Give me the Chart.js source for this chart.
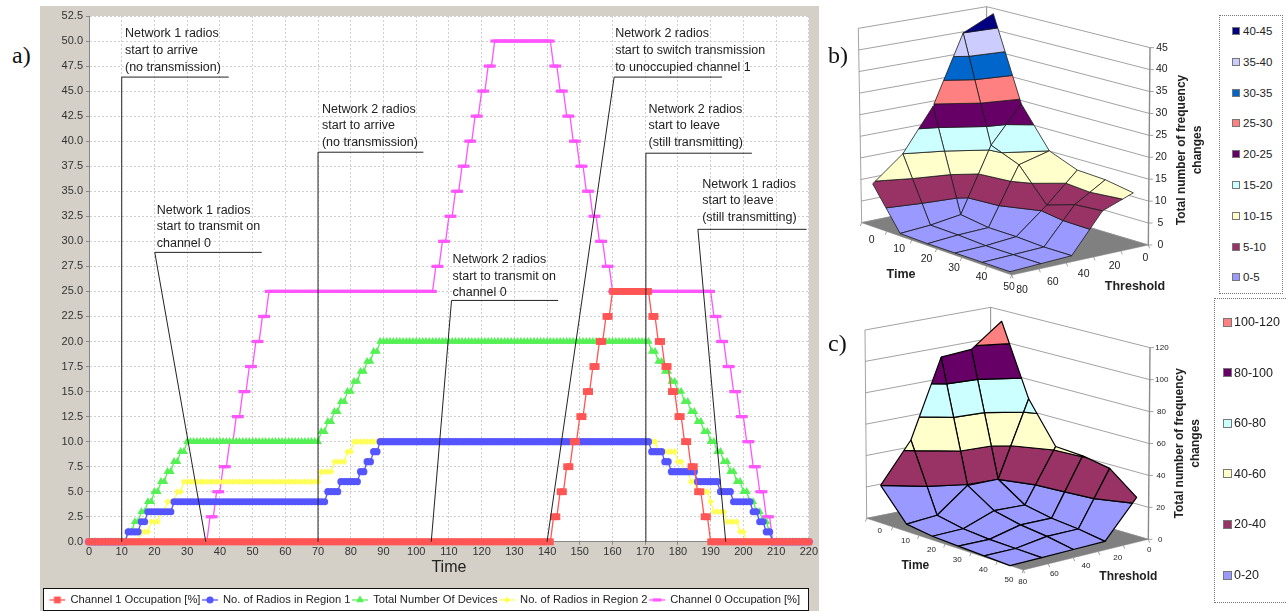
<!DOCTYPE html>
<html>
<head>
<meta charset="utf-8">
<title>Frequency changes</title>
<script src="https://cdn.jsdelivr.net/npm/chart.js@4/dist/chart.umd.js"></script>
<style>
  html, body { margin: 0; padding: 0; background: #fff; }
  body { position: relative; width: 1286px; height: 611px; overflow: hidden; font-family: "Liberation Sans", Arial, sans-serif; }
  canvas { position: absolute; display: block; }
  #chartA { left: 40px; top: 6px; background: #D4D0C8; }
  #chartB { left: 820px; top: 0; }
  #chartC { left: 820px; top: 300px; }
  .panel { position: absolute; font-family: "Liberation Serif", serif; font-size: 24px; line-height: 28px; color: #111; }
  .bandLegend { position: absolute; border: 1px dotted #777; box-sizing: border-box; color: #222; }
  .bandLegend div { position: absolute; white-space: nowrap; line-height: 14px; }
  .bandLegend i { position: absolute; border: 1px solid #777; box-sizing: border-box; }
</style>
</head>
<body>
<canvas id="chartA" width="779" height="615"></canvas>
<canvas id="chartB" width="395" height="297"></canvas>
<canvas id="chartC" width="395" height="311"></canvas>
<div class="panel" style="left:12px;top:41px">a)</div>
<div class="panel" style="left:828px;top:41px">b)</div>
<div class="panel" style="left:828px;top:329px">c)</div>
<div class="bandLegend" id="legendB" style="left:1219px;top:15px;width:64px;height:279px;font-size:11.5px"></div>
<div class="bandLegend" id="legendC" style="left:1214px;top:298px;width:80px;height:305px;font-size:12.5px"></div>

<script>
// a) time series, stored as the time each level starts and the level itself
const seriesNames = ['Channel 1 Occupation [%]', 'No. of Radios in Region 1', 'Total Number Of Devices', 'No. of Radios in Region 2', 'Channel 0 Occupation [%]'];

const channel1Starts = [0, 142, 144, 146, 148, 150, 152, 154, 156, 158, 160, 172, 174, 176, 178, 180, 182, 184, 186, 188, 190];
const channel1Levels = [0, 2.5, 5, 7.5, 10, 12.5, 15, 17.5, 20, 22.5, 25, 22.5, 20, 17.5, 15, 12.5, 10, 7.5, 5, 2.5, 0];

const region1Starts = [0, 12, 16, 18, 26, 73, 77, 83, 85, 87, 89, 172, 176, 178, 186, 193, 197, 203, 205, 207, 209];
const region1Levels = [0, 1, 2, 3, 4, 5, 6, 7, 8, 9, 10, 9, 8, 7, 6, 5, 4, 3, 2, 1, 0];

const totalStarts = [0, 12, 14, 16, 18, 20, 22, 24, 26, 28, 30, 71, 73, 75, 77, 79, 81, 83, 85, 87, 89, 172, 174, 176, 178, 180, 182, 184, 186, 188, 190, 192, 194, 196, 198, 200, 202, 204, 206, 208, 209];
const totalLevels = [0, 1, 2, 3, 4, 5, 6, 7, 8, 9, 10, 11, 12, 13, 14, 15, 16, 17, 18, 19, 20, 19, 18, 17, 16, 15, 14, 13, 12, 11, 10, 9, 8, 7, 6, 5, 4, 3, 2, 1, 0];

const region2Starts = [0, 16, 19, 22, 24, 27, 29, 71, 75, 79, 81, 174, 180, 182, 184, 186, 190, 191, 195, 199, 201];
const region2Levels = [0, 1, 2, 3, 4, 5, 6, 7, 8, 9, 10, 9, 8, 7, 6, 5, 4, 3, 2, 1, 0];

const channel0Starts = [0, 37, 39, 41, 43, 45, 47, 49, 51, 53, 55, 106, 108, 110, 112, 114, 116, 118, 120, 122, 124, 142, 144, 146, 148, 150, 152, 154, 156, 158, 160, 191, 193, 195, 197, 199, 201, 203, 205, 207, 209];
const channel0Levels = [0, 2.5, 5, 7.5, 10, 12.5, 15, 17.5, 20, 22.5, 25, 27.5, 30, 32.5, 35, 37.5, 40, 42.5, 45, 47.5, 50, 47.5, 45, 42.5, 40, 37.5, 35, 32.5, 30, 27.5, 25, 22.5, 20, 17.5, 15, 12.5, 10, 7.5, 5, 2.5, 0];

// callouts on a): text lines, text anchor, then the leader as time/value corners
const calloutTexts = [
  ['Network 1 radios', 'start to arrive', '(no transmission)'],
  ['Network 1 radios', 'start to transmit on', 'channel 0'],
  ['Network 2 radios', 'start to arrive', '(no transmission)'],
  ['Network 2 radios', 'start to transmit on', 'channel 0'],
  ['Network 2 radios', 'start to switch transmission', 'to unoccupied channel 1'],
  ['Network 2 radios', 'start to leave', '(still transmitting)'],
  ['Network 1 radios', 'start to leave', '(still transmitting)']
];
const calloutTime = [11, 20.7, 71.2, 111.1, 160.8, 171, 187.4];
const calloutValue = [50.7, 33.1, 43.2, 28.2, 50.7, 43.2, 35.7];
const leaderFoot = [10, 35.7, 70, 104.6, 140, 170.2, 194.6];
const leaderElbowTime = [10, 20.1, 70, 110.8, 160.5, 170.2, 186.1];
const leaderElbowValue = [46.4, 28.9, 38.9, 24.1, 46.4, 38.8, 31.2];
const leaderEnd = [42.7, 52.8, 102.2, 143.4, 193.5, 202.6, 219.3];

// b) and c) surfaces: one row per time, thresholds in the order of thresholdTicks
const timeTicks = [0, 10, 20, 30, 40, 50];
const thresholdTicks = [80, 60, 40, 20, 0];

const changesB = [
  [9.5, 15, 24.5, 40, 43],
  [0.2, 0.6, 1.5, 16, 24],
  [0, 0.4, 0.5, 13.4, 15],
  [0, 0, 0.4, 6, 12.4],
  [0, 0, 0, 8, 12],
  [0, 0, 0, 8.5, 10.8]
];
const changesC = [
  [20, 46, 96, 98, 113],
  [1.5, 3.8, 19.5, 20, 68],
  [0, 1, 8.7, 8.5, 42],
  [0, 0, 5, 5, 40.5],
  [0, 0, 3, 3, 37],
  [0, 0, 0, 0, 23]
];
const zTicksB = [0, 5, 10, 15, 20, 25, 30, 35, 40, 45];
const zTicksC = [0, 20, 40, 60, 80, 100, 120];
const bandsB = ['0-5', '5-10', '10-15', '15-20', '20-25', '25-30', '30-35', '35-40', '40-45'];
const bandsC = ['0-20', '20-40', '40-60', '60-80', '80-100', '100-120'];
const bandColors = ['#9999FF', '#993366', '#FFFFCC', '#CCFFFF', '#660066', '#FF8080', '#0066CC', '#CCCCFF', '#000080'];

const FONT = '"Liberation Sans", Arial, sans-serif';

function holdLevels(starts, levels) {
  const out = [];
  let k = 0;
  for (let t = 0; t <= 220; t++) {
    while (k + 1 < starts.length && starts[k + 1] <= t) k++;
    out.push({ x: t, y: levels[k] });
  }
  return out;
}

const markers = [
  { color: '#FF5555', style: 'rect', radius: 4.8, width: 0, line: 1.3 },
  { color: '#5555FF', style: 'circle', radius: 3.6, width: 0, line: 1.3 },
  { color: '#55F055', style: 'triangle', radius: 4.6, width: 0, line: 1.3 },
  { color: '#FFFF55', style: 'rectRot', radius: 3.3, width: 0, line: 1.3 },
  { color: '#FF55FF', style: 'line', radius: 4.3, width: 3.2, line: 1.3 }
];
const seriesData = [
  holdLevels(channel1Starts, channel1Levels),
  holdLevels(region1Starts, region1Levels),
  holdLevels(totalStarts, totalLevels),
  holdLevels(region2Starts, region2Levels),
  holdLevels(channel0Starts, channel0Levels)
];

function legendIcon(m) {
  const c = document.createElement('canvas');
  c.width = 18; c.height = 12;
  const ctx = c.getContext('2d');
  ctx.strokeStyle = m.color; ctx.fillStyle = m.color; ctx.lineWidth = 1.3;
  ctx.beginPath(); ctx.moveTo(1, 6); ctx.lineTo(17, 6); ctx.stroke();
  ctx.lineWidth = m.width;
  Chart.helpers.drawPoint(ctx, { pointStyle: m.style, radius: m.radius, borderWidth: m.width, rotation: 0 }, 9, 6);
  return c;
}

const annotationsA = {
  id: 'annotationsA',
  beforeDraw(chart) {
    const { ctx, chartArea: a } = chart;
    ctx.save();
    ctx.fillStyle = '#fff';
    ctx.fillRect(a.left, a.top, a.width, a.height);
    ctx.fillRect(3, 582, 765, 22);
    ctx.strokeStyle = '#111';
    ctx.lineWidth = 1;
    ctx.strokeRect(3.5, 582.5, 765, 22);
    ctx.restore();
  },
  afterDatasetsDraw(chart) {
    const { ctx, scales: { x, y } } = chart;
    ctx.save();
    ctx.strokeStyle = '#222';
    ctx.lineWidth = 1;
    ctx.fillStyle = '#222';
    ctx.font = '12.5px ' + FONT;
    ctx.textBaseline = 'middle';
    calloutTexts.forEach((lines, i) => {
      ctx.beginPath();
      ctx.moveTo(x.getPixelForValue(leaderFoot[i]), y.getPixelForValue(0));
      ctx.lineTo(x.getPixelForValue(leaderElbowTime[i]), y.getPixelForValue(leaderElbowValue[i]));
      ctx.lineTo(x.getPixelForValue(leaderEnd[i]), y.getPixelForValue(leaderElbowValue[i]));
      ctx.stroke();
      lines.forEach((t, j) => ctx.fillText(t, x.getPixelForValue(calloutTime[i]), y.getPixelForValue(calloutValue[i]) + j * 16.7));
    });
    ctx.restore();
  }
};

new Chart(document.getElementById('chartA'), {
  type: 'line',
  data: {
    datasets: seriesNames.map((name, i) => ({
      label: name,
      data: seriesData[i],
      borderColor: markers[i].color,
      backgroundColor: markers[i].color,
      borderWidth: markers[i].line,
      pointStyle: markers[i].style,
      pointRadius: markers[i].radius,
      pointBorderWidth: markers[i].width,
      pointBorderColor: markers[i].color,
      pointBackgroundColor: markers[i].color,
      tension: 0,
      clip: false
    }))
  },
  options: {
    responsive: false,
    animation: false,
    events: [],
    layout: { padding: { top: 10, right: 9, left: 0, bottom: 5.5 } },
    scales: {
      x: {
        type: 'linear', min: 0, max: 220,
        afterFit: s => { s.height = 50.5; },
        ticks: { stepSize: 10, autoSkip: false, maxRotation: 0, padding: 1, color: '#333', font: { family: FONT, size: 11 } },
        grid: { color: '#CFCFCF', tickColor: '#888', tickBorderDash: [], borderDash: [2, 2], tickLength: 3 },
        border: { color: '#888', dash: [2, 2] },
        title: { display: true, text: 'Time', color: '#222', font: { family: FONT, size: 16 }, padding: { top: 0, bottom: 15 } }
      },
      y: {
        min: 0, max: 52.5,
        afterFit: s => { s.width = 49; },
        ticks: { stepSize: 2.5, autoSkip: false, padding: 3, color: '#333', font: { family: FONT, size: 11 }, callback: v => v.toFixed(1) },
        grid: { color: '#CFCFCF', tickColor: '#888', tickBorderDash: [], tickLength: 3 },
        border: { color: '#888', dash: [2, 2] }
      }
    },
    plugins: {
      tooltip: { enabled: false },
      legend: {
        position: 'bottom',
        labels: {
          usePointStyle: true,
          pointStyleWidth: 15,
          padding: 2,
          color: '#222',
          font: { family: FONT, size: 11.2 },
          generateLabels: chart => seriesNames.map((name, i) => ({
            text: name, datasetIndex: i, pointStyle: legendIcon(markers[i]), fontColor: '#222', lineWidth: 0, hidden: false
          }))
        }
      }
    }
  },
  plugins: [annotationsA]
});

// surface helpers, all coordinates in the hidden scales of the chart
function lerp(a, b, f) { return [a[0] + (b[0] - a[0]) * f, a[1] + (b[1] - a[1]) * f]; }

function project(view, u, v, z) {
  const front = lerp(view.gridFrontLeft, view.gridFrontRight, v);
  const back = lerp(view.gridBackLeft, view.gridBackRight, v);
  const p = lerp(front, back, u);
  return { x: p[0], y: p[1] - z * view.zScale };
}

function clipBelow(poly, limit, keepBelow) {
  const out = [];
  poly.forEach((p, i) => {
    const q = poly[(i + 1) % poly.length];
    const pIn = keepBelow ? p.z <= limit : p.z >= limit;
    const qIn = keepBelow ? q.z <= limit : q.z >= limit;
    if (pIn) out.push(p);
    if (pIn !== qIn) {
      const f = (limit - p.z) / (q.z - p.z);
      out.push({ u: p.u + (q.u - p.u) * f, v: p.v + (q.v - p.v) * f, z: limit });
    }
  });
  return out;
}

function shape(points, fillColor, strokeColor, strokeWidth) {
  return {
    data: points, showLine: true, fill: fillColor ? 'shape' : false,
    backgroundColor: fillColor || 'transparent', borderColor: strokeColor, borderWidth: strokeWidth,
    pointRadius: 0, tension: 0, clip: false, borderJoinStyle: 'round'
  };
}

function xy(p) { return { x: p[0], y: p[1] }; }

function buildSurface(view, grid, zTicks, bandStep) {
  const sets = [];
  const zMax = zTicks[zTicks.length - 1];
  const w = view.walls;
  // floor and back walls
  sets.push(shape([w.left, w.front, w.right, w.back, w.left].map(xy), '#808080', '#808080', 0.5));
  zTicks.forEach(z => {
    const f = z / zMax;
    sets.push(shape([lerp(w.left, w.leftTop, f), lerp(w.back, w.backTop, f), lerp(w.right, w.rightTop, f)].map(xy), null, '#8A8A8A', 0.8));
  });
  sets.push(shape([w.left, w.leftTop].map(xy), null, '#8A8A8A', 0.8));
  sets.push(shape([w.back, w.backTop].map(xy), null, '#8A8A8A', 1));
  sets.push(shape([w.right, w.rightTop].map(xy), null, '#8A8A8A', 1.4));
  zTicks.forEach(z => {
    const p = lerp(w.right, w.rightTop, z / zMax);
    sets.push(shape([p, [p[0] + 12, p[1]]].map(xy), null, '#8A8A8A', 0.8));
  });
  for (let k = 0; k <= 6; k++) {
    const p = lerp(w.left, w.front, k / 6);
    sets.push(shape([p, [p[0] - 4, p[1] + 10]].map(xy), null, '#8A8A8A', 0.8));
  }
  for (let k = 0; k <= 5; k++) {
    const p = lerp(w.front, w.right, k / 5);
    sets.push(shape([p, [p[0] + 4, p[1] + 10]].map(xy), null, '#8A8A8A', 0.8));
  }
  // cells from the back corner to the front one
  const rows = grid.length, cols = grid[0].length;
  for (let i = 0; i < rows - 1; i++) {
    for (let j = cols - 2; j >= 0; j--) {
      const cell = [[i, j], [i, j + 1], [i + 1, j + 1], [i + 1, j]].map(([a, b]) => ({
        u: 1 - a / (rows - 1), v: b / (cols - 1), z: grid[a][b]
      }));
      view.bands.forEach((label, b) => {
        const lo = b * bandStep, hi = (b + 1) * bandStep;
        let poly = clipBelow(cell, lo, false);
        if (poly.length) poly = clipBelow(poly, hi, true);
        if (poly.length < 3) return;
        const pts = poly.map(p => project(view, p.u, p.v, p.z));
        pts.push(pts[0]);
        sets.push(shape(pts, bandColors[b], view.meshColor, view.meshWidth));
      });
    }
  }
  return sets.reverse();
}

function surfaceChart(id, view, grid, zTicks, bandStep) {
  const canvas = document.getElementById(id);
  const labels = {
    id: 'surfaceLabels',
    afterDatasetsDraw(chart) {
      const { ctx, scales: { x, y } } = chart;
      const put = (text, px, py) => ctx.fillText(text, x.getPixelForValue(px), y.getPixelForValue(py));
      ctx.save();
      ctx.fillStyle = '#222';
      ctx.textAlign = 'center';
      ctx.textBaseline = 'middle';
      ctx.font = view.tickFont;
      zTicks.forEach(z => {
        const p = lerp(view.walls.right, view.walls.rightTop, z / zTicks[zTicks.length - 1]);
        put(String(z), p[0] + 36, p[1]);
      });
      timeTicks.forEach((t, i) => {
        const p = project(view, 1 - i / (timeTicks.length - 1), 0, 0);
        put(String(t), p.x + view.timeLabelOffset[0], p.y + view.timeLabelOffset[1]);
      });
      thresholdTicks.forEach((t, j) => {
        const p = project(view, 0, j / (thresholdTicks.length - 1), 0);
        put(String(t), p.x + view.thresholdLabelOffset[0], p.y + view.thresholdLabelOffset[1]);
      });
      ctx.font = view.titleFont;
      put('Time', view.timeTitle[0], view.timeTitle[1]);
      put('Threshold', view.thresholdTitle[0], view.thresholdTitle[1]);
      ctx.save();
      ctx.font = 'bold 12px ' + FONT;
      ctx.translate(x.getPixelForValue(view.zTitle[0]), y.getPixelForValue(view.zTitle[1]));
      ctx.rotate(-Math.PI / 2);
      ctx.fillText('Total number of frequency', 0, 0);
      ctx.fillText('changes', 0, 16);
      ctx.restore();
      ctx.restore();
    }
  };
  new Chart(canvas, {
    type: 'scatter',
    data: { datasets: buildSurface(view, grid, zTicks, bandStep) },
    options: {
      responsive: false,
      animation: false,
      events: [],
      layout: { padding: 0 },
      scales: {
        x: { type: 'linear', display: false, min: 0, max: canvas.width * 3 },
        y: { type: 'linear', display: false, reverse: true, min: 0, max: canvas.height * 3 }
      },
      plugins: { legend: { display: false }, tooltip: { enabled: false } }
    },
    plugins: [labels]
  });
}

const viewB = {
  bands: bandsB,
  zScale: 13,
  gridFrontLeft: [570, 815], gridFrontRight: [940, 719],
  gridBackLeft: [158, 675], gridBackRight: [520, 600],
  walls: { left: [125, 668], front: [575, 825], right: [985, 735], back: [500, 590], leftTop: [115, 85], backTop: [500, 20], rightTop: [990, 143] },
  meshColor: '#1a1a1a', meshWidth: 0.8,
  tickFont: '10.5px ' + FONT,
  titleFont: 'bold 12.5px ' + FONT,
  timeLabelOffset: [-3, 45], thresholdLabelOffset: [36, 54],
  timeTitle: [243, 823], thresholdTitle: [945, 860], zTitle: [1085, 450]
};
const viewC = {
  bands: bandsC,
  zScale: 4.7,
  gridFrontLeft: [570, 797], gridFrontRight: [950, 700],
  gridBackLeft: [182, 650], gridBackRight: [545, 595],
  walls: { left: [140, 655], front: [610, 810], right: [985, 718], back: [512, 580], leftTop: [135, 90], backTop: [512, 22], rightTop: [990, 143] },
  meshColor: '#000', meshWidth: 1.2,
  tickFont: '8px ' + FONT,
  titleFont: 'bold 12px ' + FONT,
  timeLabelOffset: [-3, 42], thresholdLabelOffset: [38, 48],
  timeTitle: [286, 798], thresholdTitle: [925, 830], zTitle: [1078, 430]
};
surfaceChart('chartB', viewB, changesB, zTicksB, 5);
surfaceChart('chartC', viewC, changesC, zTicksC, 20);

// band legends
function fillLegend(id, labels, left, swatch, textLeft, firstTop, step) {
  const box = document.getElementById(id);
  labels.slice().reverse().forEach((label, r) => {
    const b = labels.length - 1 - r;
    const top = firstTop + r * step;
    const sw = document.createElement('i');
    sw.style.cssText = `left:${left}px;top:${top - swatch / 2}px;width:${swatch}px;height:${swatch}px;background:${bandColors[b]}`;
    const tx = document.createElement('div');
    tx.style.cssText = `left:${textLeft}px;top:${top - 7}px`;
    tx.textContent = label;
    box.append(sw, tx);
  });
}
fillLegend('legendB', bandsB, 12, 8, 23, 15, 30.8);
fillLegend('legendC', bandsC, 8, 9, 19, 23, 50.6);
</script>
</body>
</html>
